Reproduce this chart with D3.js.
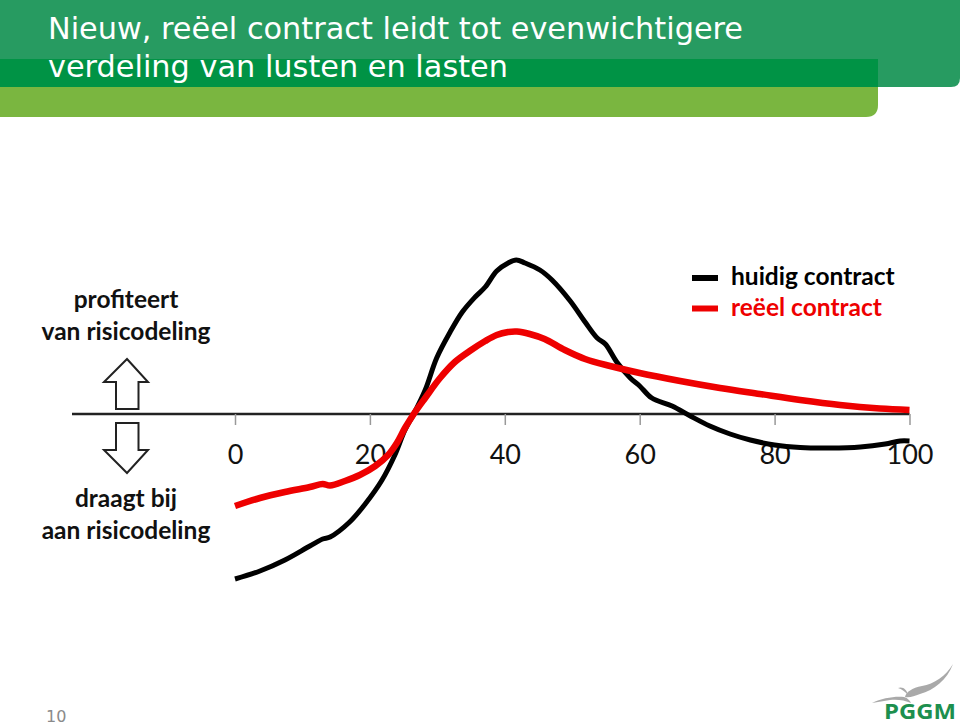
<!DOCTYPE html>
<html>
<head>
<meta charset="utf-8">
<script src="https://cdn.jsdelivr.net/npm/d3@7"></script>
<style>
  html, body { margin: 0; padding: 0; background: #fff; }
  svg { display: block; }
</style>
</head>
<body>
<div id="chart"></div>
<script>
const titleLines = ["Nieuw, reëel contract leidt tot evenwichtigere", "verdeling van lusten en lasten"];
const tickValues = [0, 20, 40, 60, 80, 100];
const seriesNames = ["huidig contract", "reëel contract"];
const seriesColors = ["#000000", "#ee0000"];

const huidigX = [0, 3.7, 7.4, 11.1, 13, 14.1, 17, 19.3, 21.8, 23.7, 25.2, 26.5, 28.2, 29.9, 31.9, 33.7, 35.6, 37.1, 38.8, 40.5,
  41.7, 43, 45.2, 47, 49.7, 51.9, 53.7, 54.9, 56.6, 58.6, 60, 61.8, 64.8, 67.5, 70.4, 73.4, 76.4, 80, 83.8, 88.2, 92.7, 96.4, 98.6, 100];
const huidigY = [-165, -157, -146, -132, -125, -123, -108, -90, -66, -41, -16, 0, 24, 56, 82, 102, 117, 127, 143, 151,
  154, 151, 144, 134, 113, 92, 76, 70, 52, 36, 28, 16, 8, -2, -12, -20, -26, -31, -33.5, -34, -33, -30, -27, -27];

const reeelX = [0, 3.7, 7.4, 11.1, 13, 14.1, 16.3, 18.5, 20.8, 22.7, 24, 25.2, 26.5, 28.2, 30.4, 32.6, 34.8, 37.1, 38.8, 40.5,
  41.8, 43.7, 45.9, 48.9, 51.9, 55.6, 60, 66, 71.9, 77.8, 83.8, 89.7, 95.6, 100];
const reeelY = [-92, -84, -78, -73, -70, -71.5, -67, -61, -52, -41, -29, -14, 0, 16, 36, 52, 63, 73, 79, 82,
  82.5, 80, 75, 64, 55, 48, 41, 33, 26, 20, 14, 9, 5.5, 4];

const svg = d3.select("#chart").append("svg")
  .attr("width", 960)
  .attr("height", 725);

// header bands
svg.append("path")
  .attr("d", "M0 0H960V78Q960 87 951 87H0Z")
  .attr("fill", "#279b61");
svg.append("path")
  .attr("d", "M0 59H878V105Q878 117 866 117H0Z")
  .attr("fill", "#7ab640");
svg.append("rect")
  .attr("x", 0).attr("y", 59)
  .attr("width", 878).attr("height", 28)
  .attr("fill", "#009345");

svg.selectAll("text.title")
  .data(titleLines)
  .enter().append("text")
    .attr("class", "title")
    .attr("x", 48)
    .attr("y", (d, i) => 39 + i * 38)
    .attr("fill", "#fff")
    .attr("font-family", "DejaVu Sans")
    .attr("font-size", "31px")
    .attr("textLength", (d, i) => i === 0 ? 695 : 460)
    .attr("lengthAdjust", "spacingAndGlyphs")
    .text(d => d);

const x = d3.scaleLinear().domain([0, 100]).range([235, 909.5]);
const y = d3.scaleLinear().domain([-200, 200]).range([614, 214]);

// long baseline reaches over to the arrows
svg.append("line")
  .attr("x1", 72).attr("x2", x(100))
  .attr("y1", y(0)).attr("y2", y(0))
  .attr("stroke", "#222")
  .attr("stroke-width", 2.5);

const xAxis = svg.append("g")
  .attr("transform", "translate(0," + y(0) + ")")
  .call(d3.axisBottom(x).tickValues(tickValues).tickSize(11).tickPadding(20).tickFormat(d => d));
xAxis.select(".domain").remove();
xAxis.selectAll(".tick line")
  .attr("stroke", "#999")
  .attr("stroke-width", 1.5);
xAxis.selectAll(".tick text")
  .attr("fill", "#111")
  .attr("font-family", "Lato")
  .attr("font-size", "27px");

const line = d3.line().x(d => x(d[0])).y(d => y(d[1])).curve(d3.curveCatmullRom);

svg.append("path")
  .datum(d3.zip(huidigX, huidigY))
  .attr("d", line)
  .attr("fill", "none")
  .attr("stroke", seriesColors[0])
  .attr("stroke-width", 5);

svg.append("path")
  .datum(d3.zip(reeelX, reeelY))
  .attr("d", line)
  .attr("fill", "none")
  .attr("stroke", seriesColors[1])
  .attr("stroke-width", 6.5);

// legend
const legend = svg.selectAll("g.legend")
  .data(seriesNames)
  .enter().append("g")
    .attr("class", "legend")
    .attr("transform", (d, i) => "translate(692," + (278 + i * 30.5) + ")");
legend.append("line")
  .attr("x2", 26)
  .attr("stroke", (d, i) => seriesColors[i])
  .attr("stroke-width", 6);
legend.append("text")
  .attr("x", 39)
  .attr("y", 7)
  .attr("fill", (d, i) => seriesColors[i])
  .attr("font-family", "Lato")
  .attr("font-weight", 700)
  .attr("font-size", "24.5px")
  .text(d => d);

// side labels
const sideLabels = [["profiteert", 308], ["van risicodeling", 340], ["draagt bij", 507], ["aan risicodeling", 539]];
svg.selectAll("text.side")
  .data(sideLabels)
  .enter().append("text")
    .attr("class", "side")
    .attr("x", 126)
    .attr("y", d => d[1])
    .attr("text-anchor", "middle")
    .attr("fill", "#111")
    .attr("font-family", "Lato")
    .attr("font-weight", 700)
    .attr("font-size", "24.5px")
    .text(d => d[0]);

// arrows
svg.append("path")
  .attr("d", "M127 359L148 382H138.5V409H116V382H104Z")
  .attr("fill", "#fff")
  .attr("stroke", "#222")
  .attr("stroke-width", 2);
svg.append("path")
  .attr("d", "M116 423H138.5V450H148L127 473L104 450H116Z")
  .attr("fill", "#fff")
  .attr("stroke", "#222")
  .attr("stroke-width", 2);

// page number
svg.append("text")
  .attr("x", 46)
  .attr("y", 722)
  .attr("fill", "#8a8a8a")
  .attr("font-family", "DejaVu Sans")
  .attr("font-size", "16px")
  .text("10");

// logo
const logoBird = [
  "M953 664C946 676 934 684 922 686C912 688 906 692 905 697C910 698 914 696 920 694C934 690 947 680 953 664Z",
  "M872 703C882 698 895 696 904 697C908 698 910 701 911 703C905 700 896 699 890 700C884 701 878 702 872 703Z",
  "M898 688C903 686 907 690 908 695C904 691 902 689 898 688Z"
];
svg.selectAll("path.bird")
  .data(logoBird)
  .enter().append("path")
    .attr("class", "bird")
    .attr("d", d => d)
    .attr("fill", "#a9a9a9");
svg.append("text")
  .attr("x", 884)
  .attr("y", 719)
  .attr("fill", "#1d8f4e")
  .attr("font-family", "Open Sans")
  .attr("font-weight", 700)
  .attr("font-size", "21px")
  .attr("textLength", 72)
  .attr("lengthAdjust", "spacingAndGlyphs")
  .text("PGGM");
</script>
</body>
</html>
